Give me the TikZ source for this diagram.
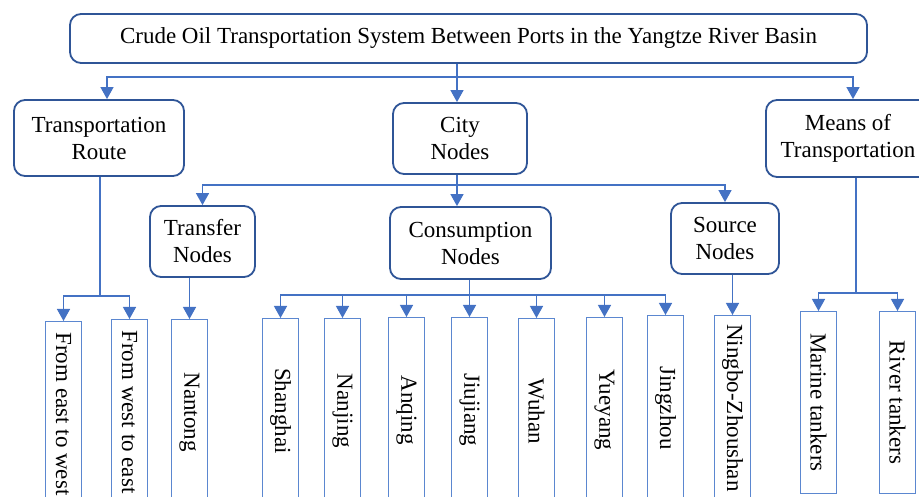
\documentclass[tikz,border=0pt]{standalone}
\usepackage{fontspec}
\setmainfont{Liberation Serif}
\usetikzlibrary{arrows.meta}
\definecolor{boxblue}{HTML}{2F5597}
\definecolor{linblue}{HTML}{4472C4}
\definecolor{leafblue}{HTML}{5B87D0}
\begin{document}
\begin{tikzpicture}[x=1pt,y=-1pt,
  rbox/.style={draw=boxblue, line width=1.8pt, rounded corners=11pt, align=center,
    font=\fontsize{23}{27}\selectfont, inner sep=0pt},
  leaf/.style={draw=leafblue, line width=1pt, rotate=-90, anchor=west,
    minimum width=185pt, minimum height=36pt, inner sep=0pt,
    font=\fontsize{23}{27}\selectfont},
  conn/.style={draw=linblue, line width=1.3pt},
  arr/.style={conn, -{Triangle[width=13pt,length=12pt]}}]
\useasboundingbox (0,0) rectangle (919,497);

% rounded boxes
\node[rbox, minimum width=797pt, minimum height=49pt] (top) at (468.5,38.5)
  {Crude Oil Transportation System Between Ports in the Yangtze River Basin};
\node[rbox, minimum width=170pt, minimum height=76pt] (tr) at (99,138) {Transportation\\Route};
\node[rbox, minimum width=134pt, minimum height=71pt] (city) at (460,138.5) {City\\Nodes};
\node[rbox, minimum width=164pt, minimum height=77pt] (means) at (848,138.5) {Means of\\Transportation};
\node[rbox, minimum width=105pt, minimum height=71pt] (transfer) at (202.5,241.5) {Transfer\\Nodes};
\node[rbox, minimum width=161pt, minimum height=72pt] (cons) at (470.5,243) {Consumption\\Nodes};
\node[rbox, minimum width=108pt, minimum height=71pt] (source) at (725,238.5) {Source\\Nodes};

% leaves
\node[leaf] (e2w) at (63.5,321) {From east to west};
\node[leaf] (w2e) at (129.5,319) {From west to east};
\node[leaf] (nantong) at (189.5,319) {Nantong};
\node[leaf] (shanghai) at (280.5,318) {Shanghai};
\node[leaf] (nanjing) at (342.5,318) {Nanjing};
\node[leaf] (anqing) at (406.5,317) {Anqing};
\node[leaf] (jiujiang) at (469.5,317) {Jiujiang};
\node[leaf] (wuhan) at (536.5,318) {Wuhan};
\node[leaf] (yueyang) at (604.5,317) {Yueyang};
\node[leaf] (jingzhou) at (665.5,315) {Jingzhou};
\node[leaf] (ningbo) at (732.5,315) {Ningbo-Zhoushan};
\node[leaf, minimum width=182pt] (marine) at (818.5,311) {Marine tankers};
\node[leaf, minimum width=182pt] (river) at (897.5,311) {River tankers};

% connectors level 1
\coordinate (j1) at (457,77);
\draw[conn] (top.south -| j1) -- (j1);
\draw[arr] (j1) -| ([xshift=8pt]tr.north);
\draw[arr] (j1) -- (j1 |- city.north);
\draw[arr] (j1) -| ([xshift=5pt]means.north);

% transportation route
\coordinate (j2) at (100,296);
\draw[conn] (tr.south -| j2) -- (j2);
\draw[arr] (j2) -| (e2w.west);
\draw[arr] (j2) -| (w2e.west);

% city nodes
\coordinate (j3) at (457,185);
\draw[conn] (city.south -| j3) -- (j3);
\draw[arr] (j3) -| (transfer.north);
\draw[arr] (j3) -- (j3 |- cons.north);
\draw[arr] (j3) -| (source.north);

% transfer
\draw[arr] (transfer.south -| nantong.west) -- (nantong.west);

% consumption
\coordinate (j4) at (469.5,295);
\draw[conn] (cons.south -| j4) -- (j4);
\foreach \n in {shanghai,nanjing,anqing,jiujiang,wuhan,yueyang,jingzhou}
  \draw[arr] (j4) -| (\n.west);

% source
\draw[arr] (source.south -| ningbo.west) -- (ningbo.west);

% means
\coordinate (j5) at (856,293);
\draw[conn] (means.south -| j5) -- (j5);
\draw[arr] (j5) -| (marine.west);
\draw[arr] (j5) -| (river.west);
\end{tikzpicture}
\end{document}
